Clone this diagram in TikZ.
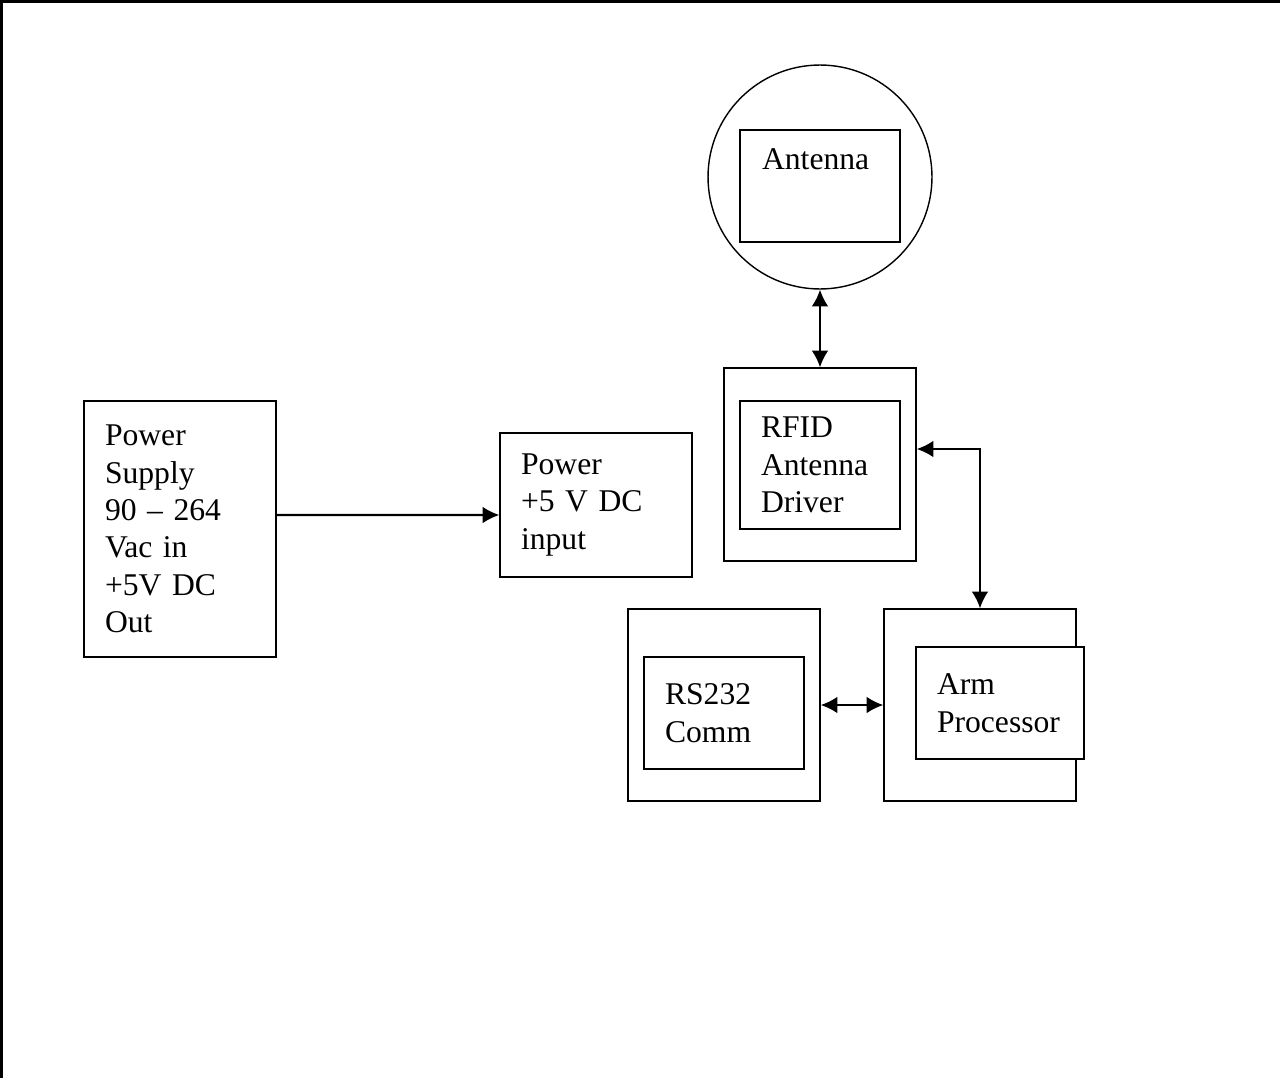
\documentclass[tikz,border=0pt]{standalone}
\usepackage{fontspec}
\setmainfont{Liberation Serif}
\usetikzlibrary{arrows.meta}
\tikzset{
  blk/.style={draw,line width=0.8pt,inner xsep=0.42cm,align=left,
    font=\fontsize{18}{21.3}\selectfont},
  lbl/.style={inner sep=0pt,anchor=north west,font=\fontsize{18}{21.3}\selectfont}
}
\begin{document}
\begin{tikzpicture}[x=0.02cm,y=-0.02cm,>={Latex[length=9.5pt,width=9.5pt]},line width=1.2pt]
\useasboundingbox (0,0) rectangle (1280,1078);
\draw[line width=1.7pt](1.5,1078)--(1.5,1.5)--(1280,1.5);
% power
\node[blk,minimum width=3.84cm,minimum height=5.12cm,text width=3cm](ps) at (180,529)
  {Power\\Supply\\90 -- 264\\Vac in\\+5V DC\\Out};
\node[blk,minimum width=3.84cm,minimum height=2.88cm,text width=3cm](pin) at (596,505)
  {Power\\+5 V DC\\input};
% antenna
\node[draw,circle,line width=0.8pt,minimum size=4.48cm](circ) at (820,177){};
\node[draw,line width=0.8pt,minimum width=3.2cm,minimum height=2.24cm](ant) at (820,186){};
\node[lbl](antlbl) at (761,148){Antenna};
% rfid
\node[draw,line width=0.8pt,minimum width=3.84cm,minimum height=3.86cm](rfid) at (820,464.5){};
\node[blk,minimum width=3.2cm,minimum height=2.56cm,text width=2.36cm](drv) at (820,465)
  {RFID\\Antenna\\Driver};
% rs232 and arm
\node[draw,line width=0.8pt,minimum width=3.84cm,minimum height=3.84cm](rs) at (724,705){};
\node[blk,minimum width=3.2cm,minimum height=2.24cm,text width=2.36cm](comm) at (724,713)
  {RS232\\Comm};
\node[draw,line width=0.8pt,minimum width=3.84cm,minimum height=3.84cm](arm) at (980,705){};
\node[blk,fill=white,minimum width=3.36cm,minimum height=2.24cm,text width=2.52cm](cpu) at (1000,703)
  {Arm\\Processor};

\draw[->]([yshift=0.28cm]ps.east)--([yshift=-0.2cm]pin.west);
\draw[<->](circ.south)--(rfid.north);
\draw[<->]([yshift=0.31cm]rfid.east)-|(arm.north);
\draw[<->](rs.east)--(arm.west);
\end{tikzpicture}
\end{document}
